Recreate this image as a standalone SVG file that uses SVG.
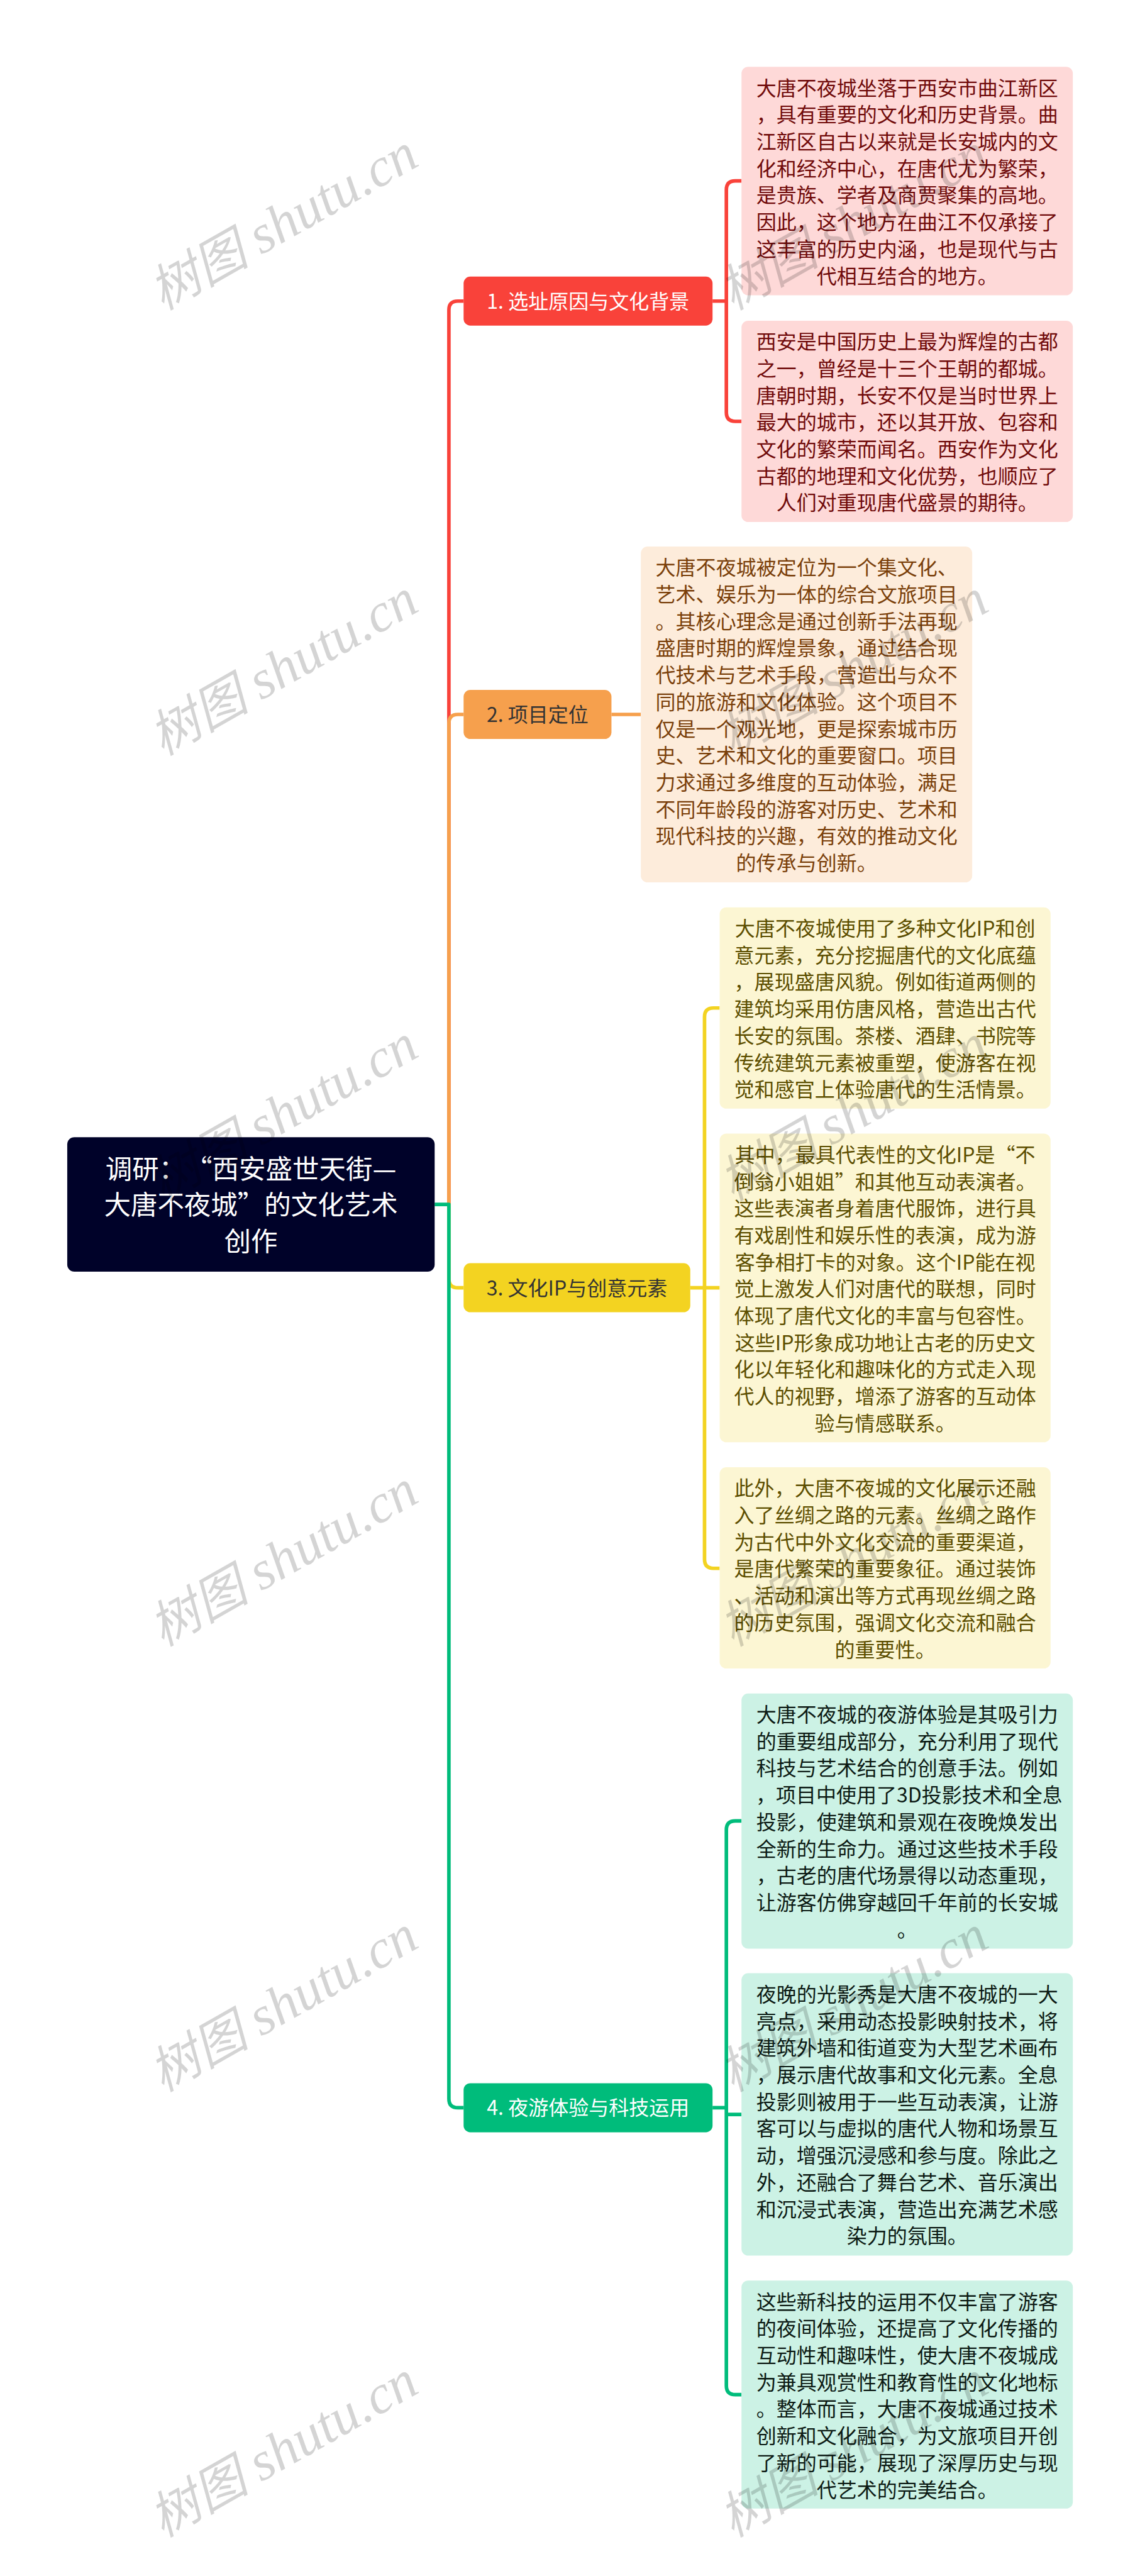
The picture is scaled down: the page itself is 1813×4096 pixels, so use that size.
<svg xmlns="http://www.w3.org/2000/svg" width="1813" height="4096" viewBox="0 0 1813 4096">
<style>
text{font-family:"Noto Sans CJK SC","Liberation Sans",sans-serif;font-size:45.2px;text-anchor:middle;text-spacing-trim:space-all}
.c{fill:none;stroke-width:8;stroke-linejoin:round}
.red{stroke:#F9423A}.ora{stroke:#F6A04D}.yel{stroke:#F3D321}.gre{stroke:#00BC7B}
.tr{fill:#700A0A}.to{fill:#7A3F0A}.ty{fill:#5C4E00}.tg{fill:#0C1A14}
.wm{font-family:"Liberation Serif","Noto Sans CJK SC",serif;font-style:italic;font-size:113px;fill:#000;fill-opacity:.17;text-anchor:start}
.wm tspan{font-size:123px}
</style>
<rect width="1813" height="4096" fill="#fff"/>
<g transform="scale(0.70825)">
<g id="connectors">
<path class="c red" d="M1008 2704V696Q1008 676 1028 676H1041"/>
<path class="c ora" d="M1008 2704V1624Q1008 1604 1028 1604H1041"/>
<path class="c yel" d="M1008 2704V2871Q1008 2891 1028 2891H1041"/>
<path class="c gre" d="M976 2704H1008V4712Q1008 4732 1028 4732H1041"/>
<path class="c red" d="M1600 676H1631M1665 406H1651Q1631 406 1631 426V926Q1631 946 1651 946H1665"/>
<path class="c ora" d="M1373 1604H1439"/>
<path class="c yel" d="M1550 2891H1616M1616 2263H1602Q1582 2263 1582 2283V3501Q1582 3521 1602 3521H1616"/>
<path class="c gre" d="M1600 4732H1631M1631 4747H1665M1665 4088H1651Q1631 4088 1631 4108V5356Q1631 5376 1651 5376H1665"/>
</g>
<g id="root"><rect x="151" y="2553" width="825" height="302" rx="16" fill="#000229"/>
<text fill="#fff" style="font-size:60px"><tspan x="563.5" y="2646">调研：“西安盛世天街—</tspan><tspan x="563.5" y="2727">大唐不夜城”的文化艺术</tspan><tspan x="563.5" y="2808">创作</tspan></text></g>
<g id="n1"><rect x="1041" y="621" width="559" height="110" rx="15" fill="#F9423A"/><text x="1320.5" y="693" fill="#fff">1. 选址原因与文化背景</text></g>
<g id="n2"><rect x="1041" y="1549" width="332" height="110" rx="15" fill="#F6A04D"/><text x="1207" y="1621" fill="#333">2. 项目定位</text></g>
<g id="n3"><rect x="1041" y="2836" width="509" height="110" rx="15" fill="#F3D321"/><text x="1295.5" y="2908" fill="#333">3. 文化IP与创意元素</text></g>
<g id="n4"><rect x="1041" y="4677" width="559" height="110" rx="15" fill="#00BC7B"/><text x="1320.5" y="4749" fill="#fff">4. 夜游体验与科技运用</text></g>
<g id="b11"><rect x="1665" y="150" width="744" height="513" rx="15" fill="#FED9D8"/>
<text class="tr" y="214"><tspan x="2037">大唐不夜城坐落于西安市曲江新区</tspan><tspan x="2037" dy="60.3">，具有重要的文化和历史背景。曲</tspan><tspan x="2037" dy="60.3">江新区自古以来就是长安城内的文</tspan><tspan x="2037" dy="60.3">化和经济中心，在唐代尤为繁荣，</tspan><tspan x="2037" dy="60.3">是贵族、学者及商贾聚集的高地。</tspan><tspan x="2037" dy="60.3">因此，这个地方在曲江不仅承接了</tspan><tspan x="2037" dy="60.3">这丰富的历史内涵，也是现代与古</tspan><tspan x="2037" dy="60.3">代相互结合的地方。</tspan></text></g>
<g id="b12"><rect x="1665" y="720" width="744" height="452" rx="15" fill="#FED9D8"/>
<text class="tr" y="784"><tspan x="2037">西安是中国历史上最为辉煌的古都</tspan><tspan x="2037" dy="60.3">之一，曾经是十三个王朝的都城。</tspan><tspan x="2037" dy="60.3">唐朝时期，长安不仅是当时世界上</tspan><tspan x="2037" dy="60.3">最大的城市，还以其开放、包容和</tspan><tspan x="2037" dy="60.3">文化的繁荣而闻名。西安作为文化</tspan><tspan x="2037" dy="60.3">古都的地理和文化优势，也顺应了</tspan><tspan x="2037" dy="60.3">人们对重现唐代盛景的期待。</tspan></text></g>
<g id="b21"><rect x="1439" y="1227" width="744" height="754" rx="15" fill="#FDECDB"/>
<text class="to" y="1291"><tspan x="1811">大唐不夜城被定位为一个集文化、</tspan><tspan x="1811" dy="60.3">艺术、娱乐为一体的综合文旅项目</tspan><tspan x="1811" dy="60.3">。其核心理念是通过创新手法再现</tspan><tspan x="1811" dy="60.3">盛唐时期的辉煌景象，通过结合现</tspan><tspan x="1811" dy="60.3">代技术与艺术手段，营造出与众不</tspan><tspan x="1811" dy="60.3">同的旅游和文化体验。这个项目不</tspan><tspan x="1811" dy="60.3">仅是一个观光地，更是探索城市历</tspan><tspan x="1811" dy="60.3">史、艺术和文化的重要窗口。项目</tspan><tspan x="1811" dy="60.3">力求通过多维度的互动体验，满足</tspan><tspan x="1811" dy="60.3">不同年龄段的游客对历史、艺术和</tspan><tspan x="1811" dy="60.3">现代科技的兴趣，有效的推动文化</tspan><tspan x="1811" dy="60.3">的传承与创新。</tspan></text></g>
<g id="b31"><rect x="1616" y="2037" width="743" height="452" rx="15" fill="#FCF6D3"/>
<text class="ty" y="2101"><tspan x="1987.5">大唐不夜城使用了多种文化IP和创</tspan><tspan x="1987.5" dy="60.3">意元素，充分挖掘唐代的文化底蕴</tspan><tspan x="1987.5" dy="60.3">，展现盛唐风貌。例如街道两侧的</tspan><tspan x="1987.5" dy="60.3">建筑均采用仿唐风格，营造出古代</tspan><tspan x="1987.5" dy="60.3">长安的氛围。茶楼、酒肆、书院等</tspan><tspan x="1987.5" dy="60.3">传统建筑元素被重塑，使游客在视</tspan><tspan x="1987.5" dy="60.3">觉和感官上体验唐代的生活情景。</tspan></text></g>
<g id="b32"><rect x="1616" y="2545" width="743" height="693" rx="15" fill="#FCF6D3"/>
<text class="ty" y="2609"><tspan x="1987.5">其中，最具代表性的文化IP是“不</tspan><tspan x="1987.5" dy="60.3">倒翁小姐姐”和其他互动表演者。</tspan><tspan x="1987.5" dy="60.3">这些表演者身着唐代服饰，进行具</tspan><tspan x="1987.5" dy="60.3">有戏剧性和娱乐性的表演，成为游</tspan><tspan x="1987.5" dy="60.3">客争相打卡的对象。这个IP能在视</tspan><tspan x="1987.5" dy="60.3">觉上激发人们对唐代的联想，同时</tspan><tspan x="1987.5" dy="60.3">体现了唐代文化的丰富与包容性。</tspan><tspan x="1987.5" dy="60.3">这些IP形象成功地让古老的历史文</tspan><tspan x="1987.5" dy="60.3">化以年轻化和趣味化的方式走入现</tspan><tspan x="1987.5" dy="60.3">代人的视野，增添了游客的互动体</tspan><tspan x="1987.5" dy="60.3">验与情感联系。</tspan></text></g>
<g id="b33"><rect x="1616" y="3294" width="743" height="452" rx="15" fill="#FCF6D3"/>
<text class="ty" y="3358"><tspan x="1987.5">此外，大唐不夜城的文化展示还融</tspan><tspan x="1987.5" dy="60.3">入了丝绸之路的元素。丝绸之路作</tspan><tspan x="1987.5" dy="60.3">为古代中外文化交流的重要渠道，</tspan><tspan x="1987.5" dy="60.3">是唐代繁荣的重要象征。通过装饰</tspan><tspan x="1987.5" dy="60.3">、活动和演出等方式再现丝绸之路</tspan><tspan x="1987.5" dy="60.3">的历史氛围，强调文化交流和融合</tspan><tspan x="1987.5" dy="60.3">的重要性。</tspan></text></g>
<g id="b41"><rect x="1665" y="3802" width="744" height="573" rx="15" fill="#CCF2E5"/>
<text class="tg" y="3866"><tspan x="2037">大唐不夜城的夜游体验是其吸引力</tspan><tspan x="2037" dy="60.3">的重要组成部分，充分利用了现代</tspan><tspan x="2037" dy="60.3">科技与艺术结合的创意手法。例如</tspan><tspan x="1697" dy="60.3" style="text-anchor:start">，项目中使用了3D投影技术和全息</tspan><tspan x="2037" dy="60.3">投影，使建筑和景观在夜晚焕发出</tspan><tspan x="2037" dy="60.3">全新的生命力。通过这些技术手段</tspan><tspan x="2037" dy="60.3">，古老的唐代场景得以动态重现，</tspan><tspan x="2037" dy="60.3">让游客仿佛穿越回千年前的长安城</tspan><tspan x="2037" dy="60.3">。</tspan></text></g>
<g id="b42"><rect x="1665" y="4430" width="744" height="634" rx="15" fill="#CCF2E5"/>
<text class="tg" y="4494"><tspan x="2037">夜晚的光影秀是大唐不夜城的一大</tspan><tspan x="2037" dy="60.3">亮点，采用动态投影映射技术，将</tspan><tspan x="2037" dy="60.3">建筑外墙和街道变为大型艺术画布</tspan><tspan x="2037" dy="60.3">，展示唐代故事和文化元素。全息</tspan><tspan x="2037" dy="60.3">投影则被用于一些互动表演，让游</tspan><tspan x="2037" dy="60.3">客可以与虚拟的唐代人物和场景互</tspan><tspan x="2037" dy="60.3">动，增强沉浸感和参与度。除此之</tspan><tspan x="2037" dy="60.3">外，还融合了舞台艺术、音乐演出</tspan><tspan x="2037" dy="60.3">和沉浸式表演，营造出充满艺术感</tspan><tspan x="2037" dy="60.3">染力的氛围。</tspan></text></g>
<g id="b43"><rect x="1665" y="5120" width="744" height="512" rx="15" fill="#CCF2E5"/>
<text class="tg" y="5184"><tspan x="2037">这些新科技的运用不仅丰富了游客</tspan><tspan x="2037" dy="60.3">的夜间体验，还提高了文化传播的</tspan><tspan x="2037" dy="60.3">互动性和趣味性，使大唐不夜城成</tspan><tspan x="2037" dy="60.3">为兼具观赏性和教育性的文化地标</tspan><tspan x="2037" dy="60.3">。整体而言，大唐不夜城通过技术</tspan><tspan x="2037" dy="60.3">创新和文化融合，为文旅项目开创</tspan><tspan x="2037" dy="60.3">了新的可能，展现了深厚历史与现</tspan><tspan x="2037" dy="60.3">代艺术的完美结合。</tspan></text></g>
<g id="watermark">
<text class="wm" transform="translate(365 698) rotate(-29.5)">树图 <tspan>shutu.cn</tspan></text>
<text class="wm" transform="translate(1645 698) rotate(-29.5)">树图 <tspan>shutu.cn</tspan></text>
<text class="wm" transform="translate(365 1698) rotate(-29.5)">树图 <tspan>shutu.cn</tspan></text>
<text class="wm" transform="translate(1645 1698) rotate(-29.5)">树图 <tspan>shutu.cn</tspan></text>
<text class="wm" transform="translate(365 2698) rotate(-29.5)">树图 <tspan>shutu.cn</tspan></text>
<text class="wm" transform="translate(1645 2698) rotate(-29.5)">树图 <tspan>shutu.cn</tspan></text>
<text class="wm" transform="translate(365 3698) rotate(-29.5)">树图 <tspan>shutu.cn</tspan></text>
<text class="wm" transform="translate(1645 3698) rotate(-29.5)">树图 <tspan>shutu.cn</tspan></text>
<text class="wm" transform="translate(365 4698) rotate(-29.5)">树图 <tspan>shutu.cn</tspan></text>
<text class="wm" transform="translate(1645 4698) rotate(-29.5)">树图 <tspan>shutu.cn</tspan></text>
<text class="wm" transform="translate(365 5698) rotate(-29.5)">树图 <tspan>shutu.cn</tspan></text>
<text class="wm" transform="translate(1645 5698) rotate(-29.5)">树图 <tspan>shutu.cn</tspan></text>
</g>
</g>
</svg>
